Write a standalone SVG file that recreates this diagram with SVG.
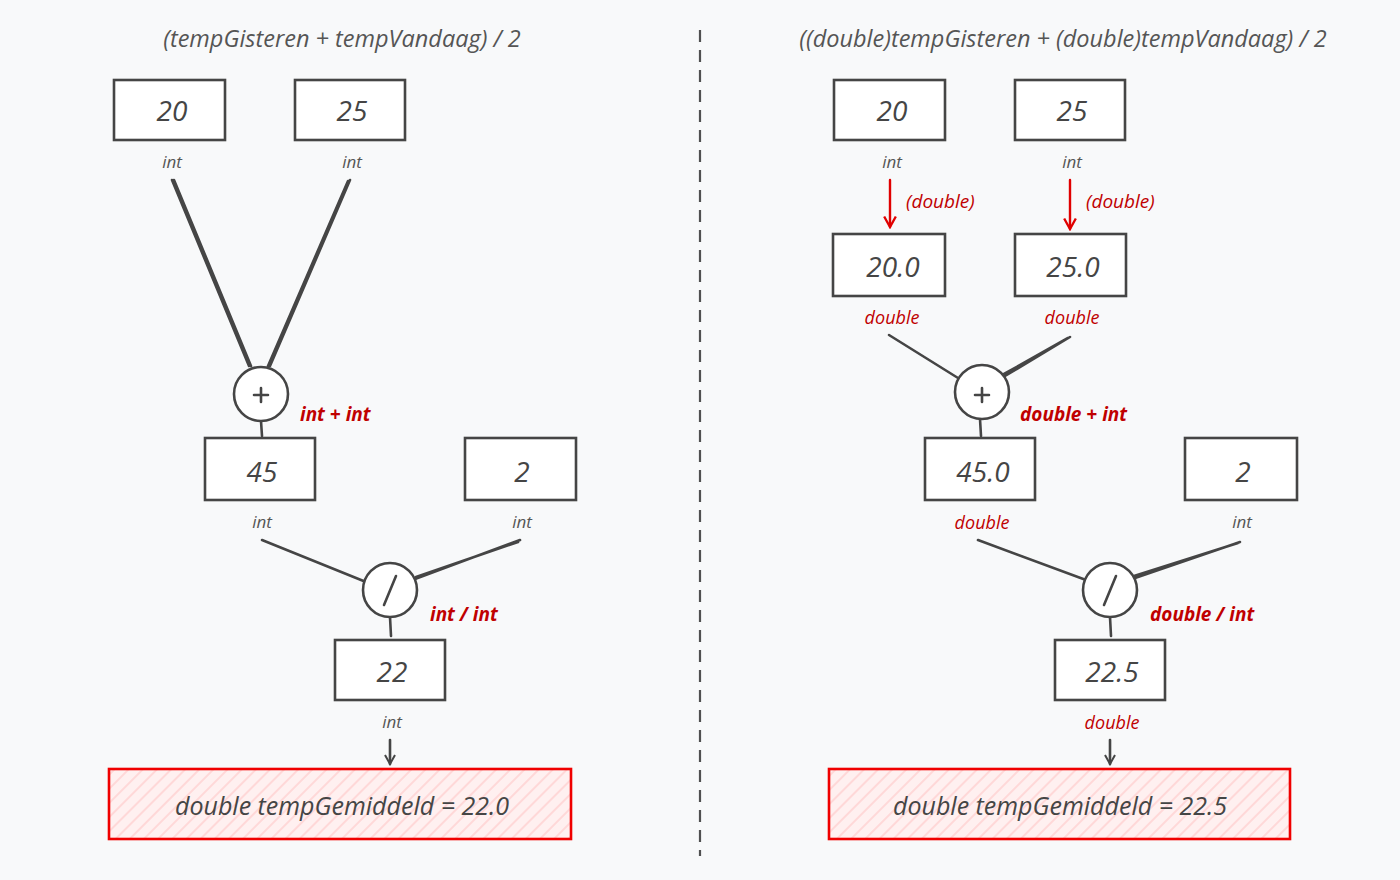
<svg xmlns="http://www.w3.org/2000/svg" width="1400" height="880" viewBox="0 0 1400 880">
<style>
.bg{fill:#f8f9fa}
.box rect{fill:#ffffff;stroke:#454545;stroke-width:2.6}
.num{font-family:"Open Sans","Liberation Sans",sans-serif;font-style:italic;font-size:28px;fill:#454545;text-anchor:middle}
.type{font-family:"Open Sans","Liberation Sans",sans-serif;font-style:italic;font-size:17px;fill:#555;text-anchor:middle}
.rtype{font-family:"Open Sans","Liberation Sans",sans-serif;font-style:italic;font-size:18px;fill:#c00000;text-anchor:middle}
.op{font-family:"Open Sans","Liberation Sans",sans-serif;font-style:italic;font-weight:bold;font-size:19px;fill:#c00000}
.cst{font-family:"Open Sans","Liberation Sans",sans-serif;font-style:italic;font-size:19px;fill:#c00000}
.title{font-family:"Open Sans","Liberation Sans",sans-serif;font-style:italic;font-size:23.5px;fill:#555;text-anchor:middle}
.res{font-family:"Open Sans","Liberation Sans",sans-serif;font-style:italic;font-size:25px;fill:#454545;text-anchor:middle}
.edge{stroke:#454545;stroke-width:2.6;fill:none;stroke-linecap:round}
.cast{stroke:#e00000;stroke-width:2.4;fill:none;stroke-linecap:round}
.circ{fill:#ffffff;stroke:#454545;stroke-width:2.6}
.sym{stroke:#454545;stroke-width:2.6;fill:none;stroke-linecap:round}
.result rect{fill:url(#hatch);stroke:#f00000;stroke-width:2.6}
</style>
<defs>
<pattern id="hatch" patternUnits="userSpaceOnUse" width="10" height="10" patternTransform="rotate(-45)">
<rect width="10" height="10" fill="#fff0f0"/>
<line x1="0" y1="5" x2="10" y2="5" stroke="#ffc9c9" stroke-width="1.2"/>
</pattern>
<marker id="ah" viewBox="0 0 12 12" refX="10" refY="6" markerWidth="12" markerHeight="12" markerUnits="userSpaceOnUse" orient="auto">
<path d="M1,1 L10,6 L1,11" fill="none" stroke="#454545" stroke-width="2"/>
</marker>
<marker id="ahr" viewBox="0 0 12 12" refX="10" refY="6" markerWidth="14" markerHeight="14" markerUnits="userSpaceOnUse" orient="auto">
<path d="M1,1 L10,6 L1,11" fill="none" stroke="#e00000" stroke-width="2"/>
</marker>
</defs>
<rect class="bg" width="1400" height="880"/>

<line x1="700" y1="30" x2="700" y2="856" stroke="#505050" stroke-width="2.2" stroke-dasharray="12 8"/>

<g id="connectors">
<path class="edge" d="M172,180 L249,366 M174,180 L251,366"/>
<path class="edge" d="M350,180 L270,366 M348,181 L268,366"/>
<path class="edge" d="M261,421 L262,436"/>
<path class="edge" d="M262,540 L366,582"/>
<path class="edge" d="M520,540 L415,579 M518,542 L416,577"/>
<path class="edge" d="M390,617 L391,636"/>
<line class="edge" x1="390" y1="740" x2="390" y2="764" marker-end="url(#ah)"/>
<line class="cast" x1="890" y1="180" x2="890" y2="227" marker-end="url(#ahr)"/>
<line class="cast" x1="1070" y1="180" x2="1070" y2="229" marker-end="url(#ahr)"/>
<path class="edge" d="M889,335 L958,378"/>
<path class="edge" d="M1070,337 L1005,376 M1068,338 L1004,374"/>
<path class="edge" d="M980,419 L981,436"/>
<path class="edge" d="M978,540 L1086,580"/>
<path class="edge" d="M1240,542 L1135,578 M1238,543 L1134,576"/>
<path class="edge" d="M1110,617 L1111,636"/>
<line class="edge" x1="1110" y1="740" x2="1110" y2="764" marker-end="url(#ah)"/>
</g>

<text class="title" x="342" y="47">(tempGisteren + tempVandaag) / 2</text>
<text class="title" x="1063" y="47">((double)tempGisteren + (double)tempVandaag) / 2</text>

<g id="l-20" class="box"><rect x="114" y="80" width="111" height="60"/><text class="num" x="172" y="121">20</text><text class="type" x="172" y="168">int</text></g>
<g id="l-25" class="box"><rect x="295" y="80" width="110" height="60"/><text class="num" x="352" y="121">25</text><text class="type" x="352" y="168">int</text></g>
<g id="l-plus"><circle class="circ" cx="261" cy="394" r="27"/><path class="sym" d="M254,395 H268 M261,388 V402"/><text class="op" x="300" y="421">int + int</text></g>
<g id="l-45" class="box"><rect x="205" y="438" width="110" height="62"/><text class="num" x="262" y="482">45</text><text class="type" x="262" y="528">int</text></g>
<g id="l-2" class="box"><rect x="465" y="438" width="111" height="62"/><text class="num" x="522" y="482">2</text><text class="type" x="522" y="528">int</text></g>
<g id="l-div"><circle class="circ" cx="390" cy="590" r="27"/><path class="sym" d="M384,605 L396,576"/><text class="op" x="430" y="621">int / int</text></g>
<g id="l-22" class="box"><rect x="335" y="640" width="110" height="60"/><text class="num" x="392" y="682">22</text><text class="type" x="392" y="728">int</text></g>
<g id="l-result" class="result"><rect x="109" y="769" width="462" height="70"/><text class="res" x="342" y="815">double tempGemiddeld = 22.0</text></g>

<g id="r-20" class="box"><rect x="834" y="80" width="111" height="60"/><text class="num" x="892" y="121">20</text><text class="type" x="892" y="168">int</text></g>
<g id="r-25" class="box"><rect x="1015" y="80" width="110" height="60"/><text class="num" x="1072" y="121">25</text><text class="type" x="1072" y="168">int</text></g>
<g id="r-cast1"><text class="cst" x="906" y="208">(double)</text></g>
<g id="r-cast2"><text class="cst" x="1086" y="208">(double)</text></g>
<g id="r-200" class="box"><rect x="833" y="234" width="112" height="62"/><text class="num" x="893" y="277">20.0</text><text class="rtype" x="892" y="324">double</text></g>
<g id="r-250" class="box"><rect x="1015" y="234" width="111" height="62"/><text class="num" x="1073" y="277">25.0</text><text class="rtype" x="1072" y="324">double</text></g>
<g id="r-plus"><circle class="circ" cx="982" cy="392" r="27"/><path class="sym" d="M975,395 H989 M982,388 V402"/><text class="op" x="1020" y="421">double + int</text></g>
<g id="r-450" class="box"><rect x="925" y="438" width="110" height="62"/><text class="num" x="983" y="482">45.0</text><text class="rtype" x="982" y="529">double</text></g>
<g id="r-2" class="box"><rect x="1185" y="438" width="112" height="62"/><text class="num" x="1243" y="482">2</text><text class="type" x="1242" y="528">int</text></g>
<g id="r-div"><circle class="circ" cx="1110" cy="590" r="27"/><path class="sym" d="M1104,605 L1116,576"/><text class="op" x="1150" y="621">double / int</text></g>
<g id="r-225" class="box"><rect x="1055" y="640" width="110" height="60"/><text class="num" x="1112" y="682">22.5</text><text class="rtype" x="1112" y="729">double</text></g>
<g id="r-result" class="result"><rect x="829" y="769" width="461" height="70"/><text class="res" x="1060" y="815">double tempGemiddeld = 22.5</text></g>
</svg>
